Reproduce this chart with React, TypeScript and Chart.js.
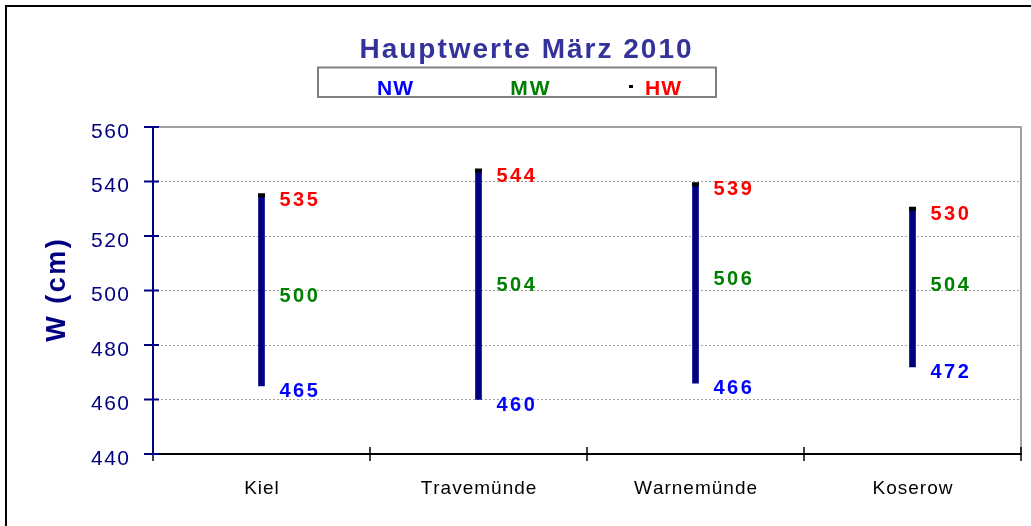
import React, { useEffect, useRef } from 'react';
import { Chart, registerables } from 'chart.js';

Chart.register(...registerables);

// ---- data ----
const stations = ['Kiel', 'Travemünde', 'Warnemünde', 'Koserow'];
const nwValues = [465, 460, 466, 472];
const mwValues = [500, 504, 506, 504];
const hwValues = [535, 544, 539, 530];
const yMin = 440;
const yMax = 560;
const yStep = 20;
const chartTitle = 'Hauptwerte März 2010';
const yAxisTitle = 'W (cm)';
const legendLabels = ['NW', 'MW', 'HW'];

const FONT = "'Liberation Sans', Arial, Helvetica, sans-serif";
const NAVY = '#000080';
const C_NW = '#0000FF';
const C_MW = '#008000';
const C_HW = '#FF0000';

function spacedWidth(ctx: CanvasRenderingContext2D, text: string, sp: number) {
  const chars = Array.from(text);
  let w = 0;
  for (const ch of chars) w += ctx.measureText(ch).width;
  return w + sp * (chars.length - 1);
}

function drawSpaced(
  ctx: CanvasRenderingContext2D,
  text: string,
  x: number,
  y: number,
  sp: number,
  align: 'left' | 'center' | 'right'
) {
  const w = spacedWidth(ctx, text, sp);
  let cx = align === 'center' ? x - w / 2 : align === 'right' ? x - w : x;
  ctx.textAlign = 'left';
  for (const ch of Array.from(text)) {
    ctx.fillText(ch, cx, y);
    cx += ctx.measureText(ch).width + sp;
  }
}

const decorPlugin = {
  id: 'decor',
  beforeDatasetsDraw(chart: any) {
    const { ctx, chartArea: a, scales } = chart;
    const x = scales.x;
    const y = scales.y;
    ctx.save();
    // plot area border (top, right)
    ctx.strokeStyle = '#a0a0a0';
    ctx.lineWidth = 2;
    ctx.beginPath();
    ctx.moveTo(a.left, a.top);
    ctx.lineTo(a.right, a.top);
    ctx.lineTo(a.right, a.bottom);
    ctx.stroke();
    // x axis
    ctx.strokeStyle = '#000';
    ctx.beginPath();
    ctx.moveTo(a.left, a.bottom);
    ctx.lineTo(a.right + 1, a.bottom);
    ctx.stroke();
    // x tick marks at category boundaries
    ctx.lineWidth = 1.5;
    for (let i = 0; i <= stations.length; i++) {
      const px = x.getPixelForValue(i - 0.5);
      ctx.beginPath();
      ctx.moveTo(px, a.bottom - 7);
      ctx.lineTo(px, a.bottom + 7);
      ctx.stroke();
    }
    // y axis
    ctx.strokeStyle = NAVY;
    ctx.lineWidth = 2;
    ctx.beginPath();
    ctx.moveTo(a.left, a.top);
    ctx.lineTo(a.left, a.bottom);
    ctx.stroke();
    // y tick marks
    for (const t of y.ticks) {
      const py = y.getPixelForValue(t.value);
      ctx.beginPath();
      ctx.moveTo(a.left - 9, py);
      ctx.lineTo(a.left + 6, py);
      ctx.stroke();
    }
    ctx.restore();
  },
  afterDraw(chart: any) {
    const { ctx, chartArea: a, scales } = chart;
    const x = scales.x;
    const y = scales.y;
    ctx.save();
    ctx.textBaseline = 'alphabetic';

    // y tick labels
    ctx.fillStyle = NAVY;
    ctx.font = `21px ${FONT}`;
    for (const t of y.ticks) {
      const py = y.getPixelForValue(t.value);
      drawSpaced(ctx, String(t.value), a.left - 24, py + 10.5, 1.5, 'right');
    }

    // x labels
    ctx.fillStyle = '#000';
    ctx.font = `19px ${FONT}`;
    stations.forEach((s, i) => {
      drawSpaced(ctx, s, x.getPixelForValue(i), 494, 1, 'center');
    });

    // y axis title
    ctx.save();
    ctx.fillStyle = NAVY;
    ctx.font = `bold 27px ${FONT}`;
    ctx.translate(65, (a.top + a.bottom) / 2);
    ctx.rotate(-Math.PI / 2);
    drawSpaced(ctx, yAxisTitle, 0, 0, 2.5, 'center');
    ctx.restore();

    // data labels
    ctx.font = `bold 20px ${FONT}`;
    stations.forEach((_, i) => {
      const lx = x.getPixelForValue(i) + 18;
      ctx.fillStyle = C_HW;
      drawSpaced(ctx, String(hwValues[i]), lx, y.getPixelForValue(hwValues[i]) + 11, 2.5, 'left');
      ctx.fillStyle = C_MW;
      drawSpaced(ctx, String(mwValues[i]), lx, y.getPixelForValue(mwValues[i]) + 11, 2.5, 'left');
      ctx.fillStyle = C_NW;
      drawSpaced(ctx, String(nwValues[i]), lx, y.getPixelForValue(nwValues[i]) + 11, 2.5, 'left');
    });

    // title
    ctx.fillStyle = '#333399';
    ctx.font = `bold 28px ${FONT}`;
    drawSpaced(ctx, chartTitle, 525.5, 57.5, 2, 'center');

    // legend box
    ctx.strokeStyle = '#808080';
    ctx.lineWidth = 2;
    ctx.strokeRect(318, 67.5, 398, 29.5);
    ctx.font = `bold 21px ${FONT}`;
    ctx.fillStyle = C_NW;
    drawSpaced(ctx, legendLabels[0], 395, 95, 1, 'center');
    ctx.fillStyle = C_MW;
    drawSpaced(ctx, legendLabels[1], 530, 95, 2, 'center');
    ctx.fillStyle = '#000';
    ctx.fillRect(629, 85, 4, 3);
    ctx.fillStyle = C_HW;
    drawSpaced(ctx, legendLabels[2], 663, 95, 1, 'center');

    // outer frame
    ctx.strokeStyle = '#000';
    ctx.lineWidth = 2;
    ctx.strokeRect(6, 6, chart.width + 10, chart.height + 10);
    ctx.restore();
  },
};

export default function App() {
  const canvasRef = useRef<HTMLCanvasElement | null>(null);

  useEffect(() => {
    const canvas = canvasRef.current;
    if (!canvas) return;
    const chart = new Chart(canvas, {
      type: 'bar',
      data: {
        labels: stations,
        datasets: [
          {
            type: 'line',
            label: 'HW',
            data: hwValues,
            showLine: false,
            pointStyle: 'line',
            pointRadius: 3.5,
            pointHoverRadius: 3.5,
            pointBorderWidth: 4,
            borderColor: '#000',
            backgroundColor: '#000',
            order: 0,
          } as any,
          {
            type: 'bar',
            label: 'NW-HW',
            data: nwValues.map((v, i) => [v, hwValues[i]]),
            backgroundColor: NAVY,
            borderWidth: 0,
            barThickness: 6,
            order: 1,
          } as any,
        ],
      },
      options: {
        responsive: false,
        animation: false,
        layout: { padding: { left: 0, top: 127, right: 10, bottom: 0 } },
        plugins: {
          legend: { display: false },
          title: { display: false },
          tooltip: { enabled: false },
        },
        scales: {
          x: {
            type: 'category',
            offset: true,
            grid: { display: false, drawTicks: false },
            border: { display: false },
            ticks: { display: false },
            afterFit: (s: any) => {
              s.height = 72;
            },
          },
          y: {
            min: yMin,
            max: yMax,
            ticks: { display: false, stepSize: yStep },
            grid: { color: '#a0a0a0', lineWidth: 1, drawTicks: false },
            border: { display: false, dash: [2, 2] },
            afterFit: (s: any) => {
              s.width = 153;
            },
          },
        },
      } as any,
      plugins: [decorPlugin],
    });
    return () => chart.destroy();
  }, []);

  return (
    <div style={{ position: 'absolute', left: 0, top: 0, width: 1031, height: 526, background: '#fff' }}>
      <canvas ref={canvasRef} width={1031} height={526} style={{ display: 'block' }} />
    </div>
  );
}
